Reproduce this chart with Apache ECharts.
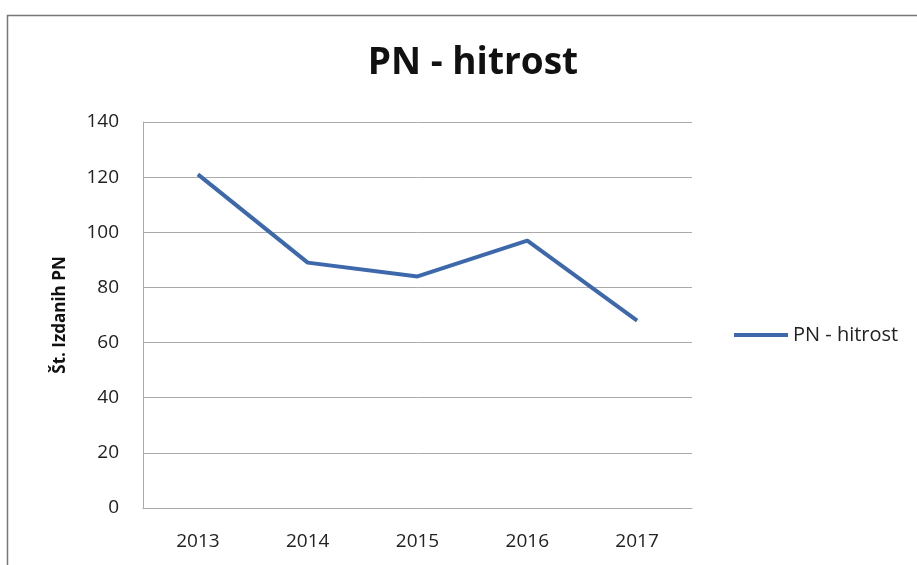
<!DOCTYPE html>
<html><head><meta charset="utf-8">
<script src="https://cdn.jsdelivr.net/npm/echarts@6/dist/echarts.min.js"></script>
<style>html,body{margin:0;padding:0;background:#fff}#c{width:917px;height:565px}</style>
</head><body><div id="c"></div>
<script>
const categories = ['2013','2014','2015','2016','2017'];
const values = [121, 89, 84, 97, 68];
const seriesName = 'PN - hitrost';
const yTicks = { min: 0, max: 140, interval: 20 };

const chart = echarts.init(document.getElementById('c'), null, {renderer:'canvas'});
chart.setOption({
  animation: false,
  backgroundColor: '#fff',
  title: {
    text: 'PN - hitrost', left: 468, top: 40, textAlign: 'center',
    textStyle: { fontFamily: 'Open Sans', fontWeight: 'bold', fontSize: 37, color: '#111' }
  },
  graphic: [{
    type: 'rect', shape: { x: 7.5, y: 15.5, width: 940, height: 600 },
    style: { fill: 'none', stroke: '#777', lineWidth: 1.5 }, silent: true
  }],
  legend: {
    data: [seriesName], left: 729, top: 320, itemWidth: 54, itemHeight: 4, itemGap: 5,
    icon: 'rect',
    textStyle: { fontFamily: 'Open Sans', fontSize: 20, color: '#222' }
  },
  grid: { left: 143, top: 122, width: 549, height: 386 },
  xAxis: {
    type: 'category', data: categories, boundaryGap: true,
    axisLine: { show: true, lineStyle: { color: '#aaa' } },
    axisTick: { show: false },
    axisLabel: { fontFamily: 'Open Sans', fontSize: 19, color: '#222', margin: 24 }
  },
  yAxis: {
    type: 'value', min: yTicks.min, max: yTicks.max, interval: yTicks.interval,
    name: 'Št. Izdanih PN', nameLocation: 'middle', nameGap: 74, nameRotate: 90,
    nameTextStyle: { fontFamily: 'Open Sans', fontWeight: 'bold', fontSize: 17, color: '#111' },
    axisLine: { show: true, lineStyle: { color: '#aaa' } },
    axisTick: { show: false },
    splitLine: { lineStyle: { color: '#aaa' } },
    axisLabel: { fontFamily: 'Open Sans', fontSize: 19, color: '#222', margin: 24, padding: [6, 0, 0, 0] }
  },
  series: [{
    name: seriesName, type: 'line', data: values, symbol: 'none',
    lineStyle: { color: '#3d68ab', width: 4 }, itemStyle: { color: '#3d68ab' }
  }]
});
</script></body></html>
